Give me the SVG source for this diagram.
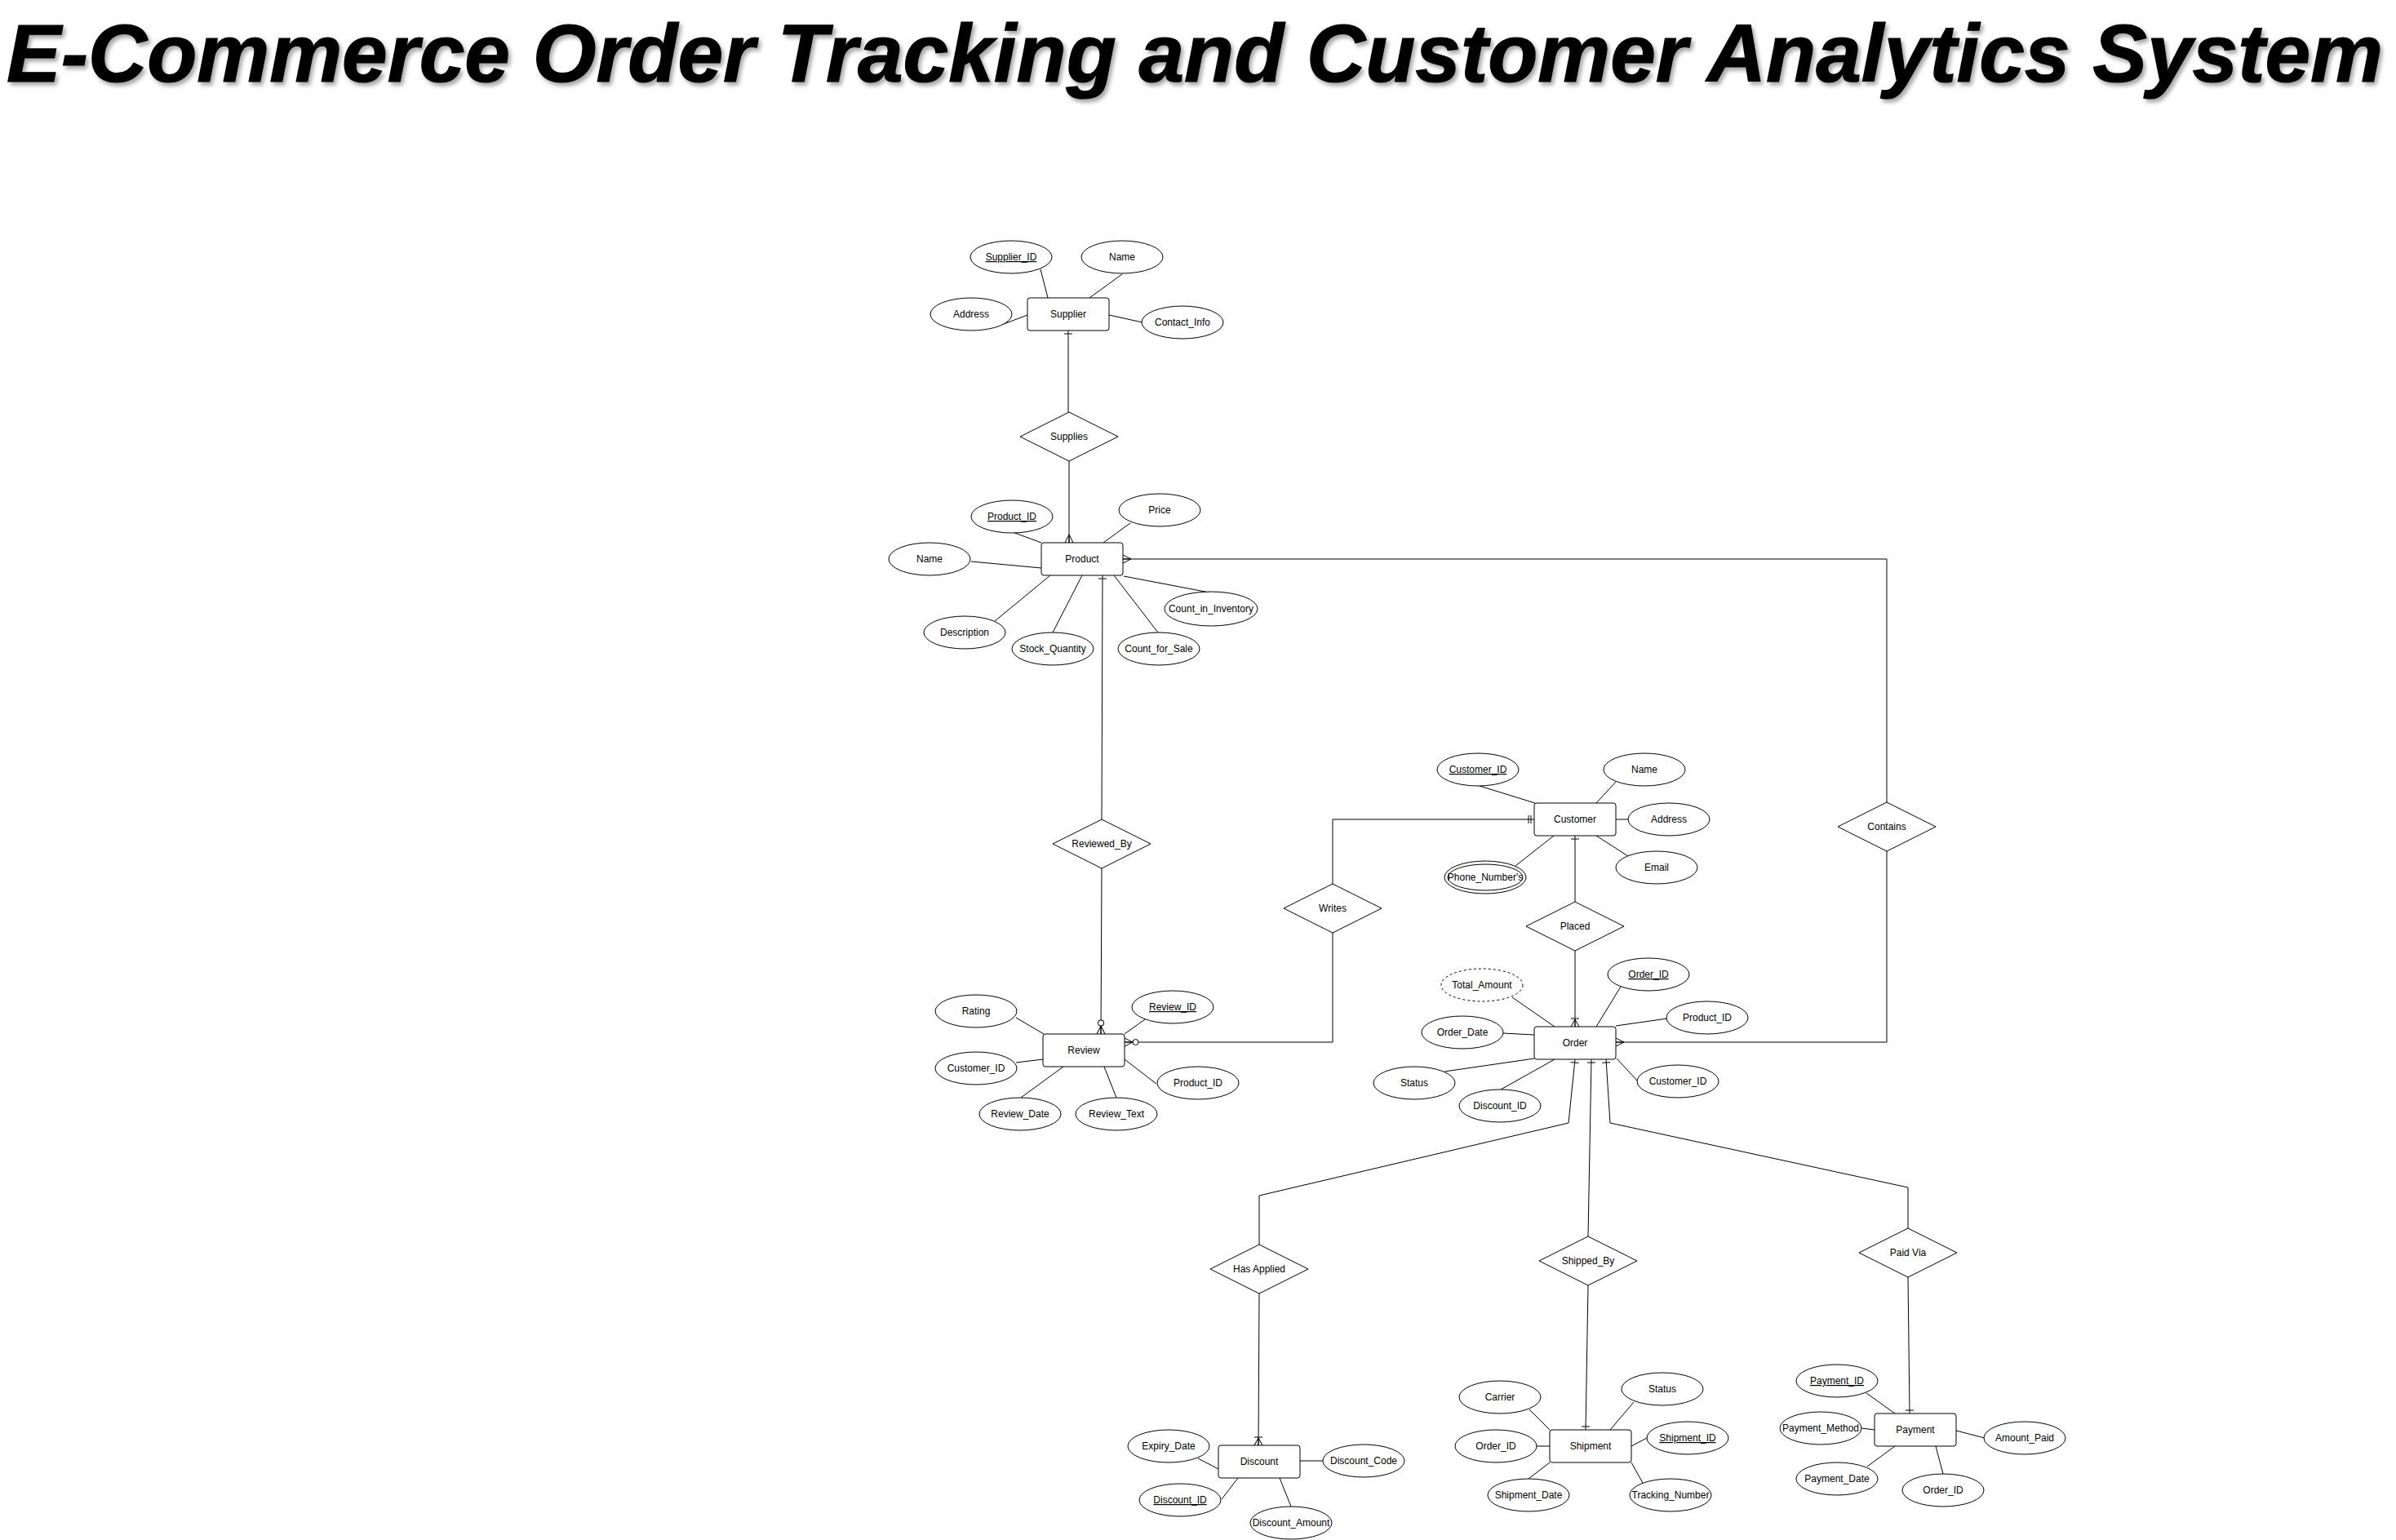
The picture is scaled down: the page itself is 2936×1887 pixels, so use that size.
<svg xmlns="http://www.w3.org/2000/svg" width="2936" height="1887" viewBox="0 0 2936 1887">
<style>
.ent{fill:#fff;stroke:#000;stroke-width:1}
.shp{fill:#fff;stroke:#000;stroke-width:1}
.dash{fill:#fff;stroke:#000;stroke-width:1;stroke-dasharray:3 3}
.t{font-family:"Liberation Sans",Arial,Helvetica,sans-serif;font-size:12px;text-anchor:middle;fill:#000}
.k{text-decoration:underline}
.ln{stroke:#000;stroke-width:1;fill:none}
.title{font-family:"Liberation Sans",Arial,Helvetica,sans-serif;font-size:100px;font-weight:bold;font-style:italic;fill:#000;stroke:#000;stroke-width:1.2}
</style>
<defs>
<filter id="sh" x="-2%" y="-30%" width="104%" height="170%">
<feDropShadow dx="3" dy="4" stdDeviation="2.5" flood-color="#000" flood-opacity="0.35"/>
</filter>
<marker id="one" viewBox="-20 -10 22 20" markerWidth="22" markerHeight="20" refX="0" refY="0" orient="auto" markerUnits="userSpaceOnUse">
<path d="M-4,-5 L-4,5" stroke="#000" fill="none"/>
</marker>
<marker id="mandOne" viewBox="-20 -10 22 20" markerWidth="22" markerHeight="20" refX="0" refY="0" orient="auto" markerUnits="userSpaceOnUse">
<path d="M-4,-5 L-4,5 M-7,-5 L-7,5" stroke="#000" fill="none"/>
</marker>
<marker id="many" viewBox="-20 -10 22 20" markerWidth="22" markerHeight="20" refX="0" refY="0" orient="auto" markerUnits="userSpaceOnUse">
<path d="M0,-5 L-10,0 L0,5 M-10,0 L0,0" stroke="#000" fill="none"/>
</marker>
<marker id="oneMany" viewBox="-20 -10 22 20" markerWidth="22" markerHeight="20" refX="0" refY="0" orient="auto" markerUnits="userSpaceOnUse">
<path d="M0,-5 L-9,0 L0,5 M-9,0 L0,0 M-10,-5 L-10,5" stroke="#000" fill="none"/>
</marker>
<marker id="zeroMany" viewBox="-20 -10 22 20" markerWidth="22" markerHeight="20" refX="0" refY="0" orient="auto" markerUnits="userSpaceOnUse">
<path d="M0,-5 L-10,0 L0,5 M-10,0 L0,0" stroke="#000" fill="none"/>
<circle cx="-13.5" cy="0" r="3.5" fill="#fff" stroke="#000"/>
</marker>
</defs>

<rect x="0" y="0" width="2936" height="1887" fill="#fff"/>

<text id="title" class="title" x="8" y="100" textLength="2912" lengthAdjust="spacingAndGlyphs" filter="url(#sh)">E-Commerce Order Tracking and Customer Analytics System</text>

<g id="attribute-lines" class="ln">
<!-- Supplier -->
<line x1="1275" y1="330" x2="1284" y2="365"/>
<line x1="1375" y1="336" x2="1335" y2="365"/>
<line x1="1230" y1="397" x2="1259" y2="386"/>
<line x1="1359" y1="386" x2="1400" y2="395"/>
<!-- Product -->
<line x1="1241" y1="652" x2="1276" y2="665"/>
<line x1="1385" y1="641" x2="1352" y2="665"/>
<line x1="1190" y1="688" x2="1276" y2="696"/>
<line x1="1219" y1="761" x2="1287" y2="705"/>
<line x1="1290" y1="775" x2="1326" y2="705"/>
<line x1="1419" y1="775" x2="1365" y2="705"/>
<line x1="1482" y1="726" x2="1377" y2="706"/>
<!-- Customer -->
<line x1="1813" y1="963" x2="1881" y2="984"/>
<line x1="1980" y1="958" x2="1956" y2="984"/>
<line x1="1980" y1="1004" x2="1995" y2="1004"/>
<line x1="1956" y1="1024" x2="1995" y2="1049"/>
<line x1="1904" y1="1024" x2="1857" y2="1061"/>
<!-- Order -->
<line x1="1853" y1="1222" x2="1905" y2="1258"/>
<line x1="1986" y1="1209" x2="1956" y2="1258"/>
<line x1="2043" y1="1248" x2="1980" y2="1257"/>
<line x1="1842" y1="1266" x2="1880" y2="1268"/>
<line x1="1770" y1="1313" x2="1880" y2="1297"/>
<line x1="1839" y1="1335" x2="1905" y2="1298"/>
<line x1="2007" y1="1325" x2="1981" y2="1297"/>
<!-- Review -->
<line x1="1245" y1="1247" x2="1279" y2="1267"/>
<line x1="1403" y1="1249" x2="1378" y2="1267"/>
<line x1="1245" y1="1302" x2="1278" y2="1298"/>
<line x1="1417" y1="1328" x2="1378" y2="1298"/>
<line x1="1251" y1="1345" x2="1303" y2="1307"/>
<line x1="1368" y1="1345" x2="1353" y2="1307"/>
<!-- Discount -->
<line x1="1468" y1="1787" x2="1493" y2="1800"/>
<line x1="1497" y1="1837" x2="1517" y2="1811"/>
<line x1="1582" y1="1846" x2="1568" y2="1811"/>
<line x1="1593" y1="1790" x2="1621" y2="1790"/>
<!-- Shipment -->
<line x1="1874" y1="1727" x2="1899" y2="1752"/>
<line x1="2002" y1="1718" x2="1973" y2="1752"/>
<line x1="1883" y1="1772" x2="1899" y2="1772"/>
<line x1="2018" y1="1762" x2="1999" y2="1772"/>
<line x1="1873" y1="1812" x2="1899" y2="1792"/>
<line x1="2013" y1="1817" x2="1999" y2="1792"/>
<!-- Payment -->
<line x1="2287" y1="1707" x2="2322" y2="1732"/>
<line x1="2281" y1="1750" x2="2297" y2="1752"/>
<line x1="2432" y1="1762" x2="2397" y2="1753"/>
<line x1="2288" y1="1797" x2="2322" y2="1772"/>
<line x1="2381" y1="1806" x2="2372" y2="1772"/>
</g>

<g id="connectors" class="ln">
<path id="e-supplies-supplier" d="M1309,505 L1309,405" marker-end="url(#one)"/>
<path id="e-supplies-product" d="M1310,565 L1310,665" marker-end="url(#many)"/>
<path id="e-reviewedby-product" d="M1350,1004 L1351,705" marker-end="url(#one)"/>
<path id="e-reviewedby-review" d="M1350,1064 L1349,1267" marker-end="url(#zeroMany)"/>
<path id="e-writes-customer" d="M1633,1083 L1633,1004 L1880,1004" marker-end="url(#mandOne)"/>
<path id="e-writes-review" d="M1633,1143 L1633,1277 L1378,1277" marker-end="url(#zeroMany)"/>
<path id="e-placed-customer" d="M1930,1105 L1930,1024" marker-end="url(#one)"/>
<path id="e-placed-order" d="M1930,1165 L1930,1258" marker-end="url(#oneMany)"/>
<path id="e-contains-product" d="M2312,983 L2312,685 L1376,685" marker-end="url(#many)"/>
<path id="e-contains-order" d="M2312,1043 L2312,1277 L1980,1277" marker-end="url(#many)"/>
<path id="e-hasapplied-order" d="M1543,1525 L1543,1465 L1922,1376 L1930,1298" marker-end="url(#one)"/>
<path id="e-hasapplied-discount" d="M1543,1585 L1542,1771" marker-end="url(#oneMany)"/>
<path id="e-shippedby-order" d="M1946,1515 L1950,1298" marker-end="url(#one)"/>
<path id="e-shippedby-shipment" d="M1946,1575 L1943,1752" marker-end="url(#one)"/>
<path id="e-paidvia-order" d="M2338,1505 L2338,1455 L1973,1376 L1968,1298" marker-end="url(#one)"/>
<path id="e-paidvia-payment" d="M2338,1565 L2340,1732" marker-end="url(#one)"/>
</g>

<!-- Supplier -->
<g id="supplier">
<rect class="ent" x="1259" y="365" width="100" height="40" rx="3"/>
<text class="t" x="1309" y="389">Supplier</text>
</g>
<g id="supplier-id"><ellipse class="shp" cx="1239" cy="315" rx="50" ry="20"/><text class="t k" x="1239" y="319">Supplier_ID</text></g>
<g id="supplier-name"><ellipse class="shp" cx="1375" cy="315" rx="50" ry="20"/><text class="t" x="1375" y="319">Name</text></g>
<g id="supplier-address"><ellipse class="shp" cx="1190" cy="385" rx="50" ry="20"/><text class="t" x="1190" y="389">Address</text></g>
<g id="supplier-contact"><ellipse class="shp" cx="1449" cy="395" rx="50" ry="20"/><text class="t" x="1449" y="399">Contact_Info</text></g>
<g id="supplies"><polygon class="shp" points="1250,535 1310,505 1370,535 1310,565"/><text class="t" x="1310" y="539">Supplies</text></g>

<!-- Product -->
<g id="product">
<rect class="ent" x="1276" y="665" width="100" height="40" rx="3"/>
<text class="t" x="1326" y="689">Product</text>
</g>
<g id="product-id"><ellipse class="shp" cx="1240" cy="633" rx="50" ry="20"/><text class="t k" x="1240" y="637">Product_ID</text></g>
<g id="product-price"><ellipse class="shp" cx="1421" cy="625" rx="50" ry="20"/><text class="t" x="1421" y="629">Price</text></g>
<g id="product-name"><ellipse class="shp" cx="1139" cy="685" rx="50" ry="20"/><text class="t" x="1139" y="689">Name</text></g>
<g id="product-description"><ellipse class="shp" cx="1182" cy="775" rx="50" ry="20"/><text class="t" x="1182" y="779">Description</text></g>
<g id="product-stock"><ellipse class="shp" cx="1290" cy="795" rx="50" ry="20"/><text class="t" x="1290" y="799">Stock_Quantity</text></g>
<g id="product-countsale"><ellipse class="shp" cx="1420" cy="795" rx="50" ry="20"/><text class="t" x="1420" y="799">Count_for_Sale</text></g>
<g id="product-countinv"><ellipse class="shp" cx="1484" cy="746" rx="57" ry="21"/><text class="t" x="1484" y="750">Count_in_Inventory</text></g>

<g id="reviewed-by"><polygon class="shp" points="1290,1034 1350,1004 1410,1034 1350,1064"/><text class="t" x="1350" y="1038">Reviewed_By</text></g>
<g id="contains"><polygon class="shp" points="2252,1013 2312,983 2372,1013 2312,1043"/><text class="t" x="2312" y="1017">Contains</text></g>

<!-- Customer -->
<g id="customer">
<rect class="ent" x="1880" y="984" width="100" height="40" rx="3"/>
<text class="t" x="1930" y="1008">Customer</text>
</g>
<g id="customer-id"><ellipse class="shp" cx="1811" cy="943" rx="50" ry="20"/><text class="t k" x="1811" y="947">Customer_ID</text></g>
<g id="customer-name"><ellipse class="shp" cx="2015" cy="943" rx="50" ry="20"/><text class="t" x="2015" y="947">Name</text></g>
<g id="customer-address"><ellipse class="shp" cx="2045" cy="1004" rx="50" ry="20"/><text class="t" x="2045" y="1008">Address</text></g>
<g id="customer-email"><ellipse class="shp" cx="2030" cy="1063" rx="50" ry="20"/><text class="t" x="2030" y="1067">Email</text></g>
<g id="customer-phone"><ellipse class="shp" cx="1820" cy="1075" rx="50" ry="20"/><ellipse class="shp" cx="1820" cy="1075" rx="46" ry="16"/><text class="t" x="1820" y="1079">Phone_Number's</text></g>
<g id="writes"><polygon class="shp" points="1573,1113 1633,1083 1693,1113 1633,1143"/><text class="t" x="1633" y="1117">Writes</text></g>
<g id="placed"><polygon class="shp" points="1870,1135 1930,1105 1990,1135 1930,1165"/><text class="t" x="1930" y="1139">Placed</text></g>

<!-- Order -->
<g id="order">
<rect class="ent" x="1880" y="1258" width="100" height="40" rx="3"/>
<text class="t" x="1930" y="1282">Order</text>
</g>
<g id="order-id"><ellipse class="shp" cx="2020" cy="1194" rx="50" ry="20"/><text class="t k" x="2020" y="1198">Order_ID</text></g>
<g id="order-total"><ellipse class="dash" cx="1816" cy="1207" rx="50" ry="20"/><text class="t" x="1816" y="1211">Total_Amount</text></g>
<g id="order-product-id"><ellipse class="shp" cx="2092" cy="1247" rx="50" ry="20"/><text class="t" x="2092" y="1251">Product_ID</text></g>
<g id="order-date"><ellipse class="shp" cx="1792" cy="1265" rx="50" ry="20"/><text class="t" x="1792" y="1269">Order_Date</text></g>
<g id="order-status"><ellipse class="shp" cx="1733" cy="1327" rx="50" ry="20"/><text class="t" x="1733" y="1331">Status</text></g>
<g id="order-discount-id"><ellipse class="shp" cx="1838" cy="1355" rx="50" ry="20"/><text class="t" x="1838" y="1359">Discount_ID</text></g>
<g id="order-customer-id"><ellipse class="shp" cx="2056" cy="1325" rx="50" ry="20"/><text class="t" x="2056" y="1329">Customer_ID</text></g>

<!-- Review -->
<g id="review">
<rect class="ent" x="1278" y="1267" width="100" height="40" rx="3"/>
<text class="t" x="1328" y="1291">Review</text>
</g>
<g id="review-rating"><ellipse class="shp" cx="1196" cy="1239" rx="50" ry="20"/><text class="t" x="1196" y="1243">Rating</text></g>
<g id="review-id"><ellipse class="shp" cx="1437" cy="1234" rx="50" ry="20"/><text class="t k" x="1437" y="1238">Review_ID</text></g>
<g id="review-customer-id"><ellipse class="shp" cx="1196" cy="1309" rx="50" ry="20"/><text class="t" x="1196" y="1313">Customer_ID</text></g>
<g id="review-product-id"><ellipse class="shp" cx="1468" cy="1327" rx="50" ry="20"/><text class="t" x="1468" y="1331">Product_ID</text></g>
<g id="review-date"><ellipse class="shp" cx="1250" cy="1365" rx="50" ry="20"/><text class="t" x="1250" y="1369">Review_Date</text></g>
<g id="review-text"><ellipse class="shp" cx="1368" cy="1365" rx="50" ry="20"/><text class="t" x="1368" y="1369">Review_Text</text></g>

<!-- Relationships bottom -->
<g id="has-applied"><polygon class="shp" points="1483,1555 1543,1525 1603,1555 1543,1585"/><text class="t" x="1543" y="1559">Has Applied</text></g>
<g id="shipped-by"><polygon class="shp" points="1886,1545 1946,1515 2006,1545 1946,1575"/><text class="t" x="1946" y="1549">Shipped_By</text></g>
<g id="paid-via"><polygon class="shp" points="2278,1535 2338,1505 2398,1535 2338,1565"/><text class="t" x="2338" y="1539">Paid Via</text></g>

<!-- Discount -->
<g id="discount">
<rect class="ent" x="1493" y="1771" width="100" height="40" rx="3"/>
<text class="t" x="1543" y="1795">Discount</text>
</g>
<g id="discount-expiry"><ellipse class="shp" cx="1432" cy="1772" rx="50" ry="20"/><text class="t" x="1432" y="1776">Expiry_Date</text></g>
<g id="discount-id"><ellipse class="shp" cx="1446" cy="1838" rx="50" ry="20"/><text class="t k" x="1446" y="1842">Discount_ID</text></g>
<g id="discount-amount"><ellipse class="shp" cx="1582" cy="1866" rx="50" ry="20"/><text class="t" x="1582" y="1870">Discount_Amount</text></g>
<g id="discount-code"><ellipse class="shp" cx="1671" cy="1790" rx="50" ry="20"/><text class="t" x="1671" y="1794">Discount_Code</text></g>

<!-- Shipment -->
<g id="shipment">
<rect class="ent" x="1899" y="1752" width="100" height="40" rx="3"/>
<text class="t" x="1949" y="1776">Shipment</text>
</g>
<g id="shipment-carrier"><ellipse class="shp" cx="1838" cy="1712" rx="50" ry="20"/><text class="t" x="1838" y="1716">Carrier</text></g>
<g id="shipment-status"><ellipse class="shp" cx="2037" cy="1702" rx="50" ry="20"/><text class="t" x="2037" y="1706">Status</text></g>
<g id="shipment-order-id"><ellipse class="shp" cx="1833" cy="1772" rx="50" ry="20"/><text class="t" x="1833" y="1776">Order_ID</text></g>
<g id="shipment-id"><ellipse class="shp" cx="2068" cy="1762" rx="50" ry="20"/><text class="t k" x="2068" y="1766">Shipment_ID</text></g>
<g id="shipment-date"><ellipse class="shp" cx="1873" cy="1832" rx="50" ry="20"/><text class="t" x="1873" y="1836">Shipment_Date</text></g>
<g id="shipment-tracking"><ellipse class="shp" cx="2047" cy="1832" rx="50" ry="20"/><text class="t" x="2047" y="1836">Tracking_Number</text></g>

<!-- Payment -->
<g id="payment">
<rect class="ent" x="2297" y="1732" width="100" height="40" rx="3"/>
<text class="t" x="2347" y="1756">Payment</text>
</g>
<g id="payment-id"><ellipse class="shp" cx="2251" cy="1692" rx="50" ry="20"/><text class="t k" x="2251" y="1696">Payment_ID</text></g>
<g id="payment-method"><ellipse class="shp" cx="2231" cy="1750" rx="50" ry="20"/><text class="t" x="2231" y="1754">Payment_Method</text></g>
<g id="payment-amount"><ellipse class="shp" cx="2481" cy="1762" rx="50" ry="20"/><text class="t" x="2481" y="1766">Amount_Paid</text></g>
<g id="payment-date"><ellipse class="shp" cx="2251" cy="1812" rx="50" ry="20"/><text class="t" x="2251" y="1816">Payment_Date</text></g>
<g id="payment-order-id"><ellipse class="shp" cx="2381" cy="1826" rx="50" ry="20"/><text class="t" x="2381" y="1830">Order_ID</text></g>
</svg>
